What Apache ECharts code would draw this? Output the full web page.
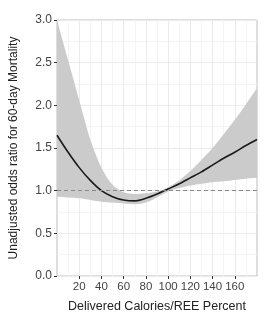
<!DOCTYPE html>
<html>
<head>
<meta charset="utf-8">
<script src="https://cdn.jsdelivr.net/npm/echarts@6/dist/echarts.min.js"></script>
<style>
  html, body { margin: 0; padding: 0; background: #fff; }
  #chart { width: 273px; height: 318px; }
</style>
</head>
<body>
<div id="chart"></div>
<script>
// delivered calories / REE percent
var calories = [0, 10, 20, 30, 40, 50, 60, 70, 80, 90, 100, 110, 120, 130, 140, 150, 160, 170, 180];
// fitted odds ratio and its confidence band
var oddsRatio = [1.65, 1.45, 1.27, 1.12, 1.00, 0.93, 0.89, 0.88, 0.91, 0.96, 1.02, 1.08, 1.15, 1.22, 1.30, 1.38, 1.45, 1.53, 1.60];
var upperCI = [3.00, 2.53, 2.06, 1.60, 1.27, 1.07, 0.98, 0.96, 0.97, 0.99, 1.04, 1.12, 1.23, 1.36, 1.50, 1.66, 1.83, 2.01, 2.20];
var lowerCI = [0.93, 0.92, 0.91, 0.89, 0.87, 0.86, 0.85, 0.84, 0.86, 0.92, 0.99, 1.03, 1.06, 1.08, 1.10, 1.11, 1.125, 1.14, 1.15];
var xTicks = [20, 40, 60, 80, 100, 120, 140, 160];

var font = 'Liberation Sans, Arial, sans-serif';

// band drawn as stacked areas on a hidden category axis laid over the value axis
var bandWidth = upperCI.map(function (u, i) { return +(u - lowerCI[i]).toFixed(3); });

var option = {
  animation: false,
  grid: {
    left: 48,
    top: 20,
    width: 209,
    height: 256,
    show: true,
    borderColor: '#bdbdbd',
    borderWidth: 1,
    backgroundColor: '#fff'
  },
  xAxis: [
    {
      type: 'value',
      min: 0,
      max: 180,
      interval: 20,
      name: 'Delivered Calories/REE Percent',
      nameLocation: 'middle',
      nameGap: 24,
      nameTextStyle: { fontFamily: font, fontSize: 12.5, color: '#222' },
      axisLine: { show: false },
      axisTick: {
        show: true, length: 3, lineStyle: { color: '#333' },
        customValues: xTicks
      },
      axisLabel: {
        fontFamily: font, fontSize: 11.5, color: '#444', margin: 5,
        customValues: xTicks,
        formatter: function (v) { return (v >= 20 && v <= 160) ? String(v) : ''; }
      },
      splitLine: { show: true, lineStyle: { color: '#ebebeb', width: 1 } },
      minorTick: { show: false, splitNumber: 2 },
      minorSplitLine: { show: true, lineStyle: { color: '#f4f4f4', width: 1 } },
      z: 0
    },
    {
      type: 'category',
      data: calories,
      boundaryGap: false,
      show: false
    }
  ],
  yAxis: {
    type: 'value',
    min: 0,
    max: 3,
    interval: 0.5,
    name: 'Unadjusted odds ratio for 60-day Mortality',
    nameLocation: 'middle',
    nameGap: 37,
    nameTextStyle: { fontFamily: font, fontSize: 12, color: '#222' },
    axisLine: { show: false },
    axisTick: { show: true, length: 3, lineStyle: { color: '#333' } },
    axisLabel: {
      fontFamily: font, fontSize: 12, color: '#444', margin: 5,
      formatter: function (v) { return v.toFixed(1); }
    },
    splitLine: { show: true, lineStyle: { color: '#ebebeb', width: 1 } },
    minorTick: { show: false, splitNumber: 2 },
    minorSplitLine: { show: true, lineStyle: { color: '#f4f4f4', width: 1 } }
  },
  series: [
    {
      name: 'lower',
      type: 'line',
      xAxisIndex: 1,
      stack: 'band',
      data: lowerCI,
      smooth: 0.3,
      symbol: 'none',
      lineStyle: { opacity: 0 },
      silent: true
    },
    {
      name: 'band',
      type: 'line',
      xAxisIndex: 1,
      stack: 'band',
      data: bandWidth,
      smooth: 0.3,
      symbol: 'none',
      lineStyle: { opacity: 0 },
      areaStyle: { color: '#cbcbcb', opacity: 1 },
      silent: true,
      markLine: {
        silent: true,
        symbol: 'none',
        label: { show: false },
        lineStyle: { color: '#888', type: [4, 3], width: 1 },
        data: [{ yAxis: 1 }]
      }
    },
    {
      name: 'odds ratio',
      type: 'line',
      xAxisIndex: 1,
      data: oddsRatio,
      smooth: 0.3,
      symbol: 'none',
      lineStyle: { color: '#1a1a1a', width: 1.6 }
    }
  ]
};

var chart = echarts.init(document.getElementById('chart'));
chart.setOption(option);
window.addEventListener('resize', function () { chart.resize(); });
</script>
</body>
</html>
